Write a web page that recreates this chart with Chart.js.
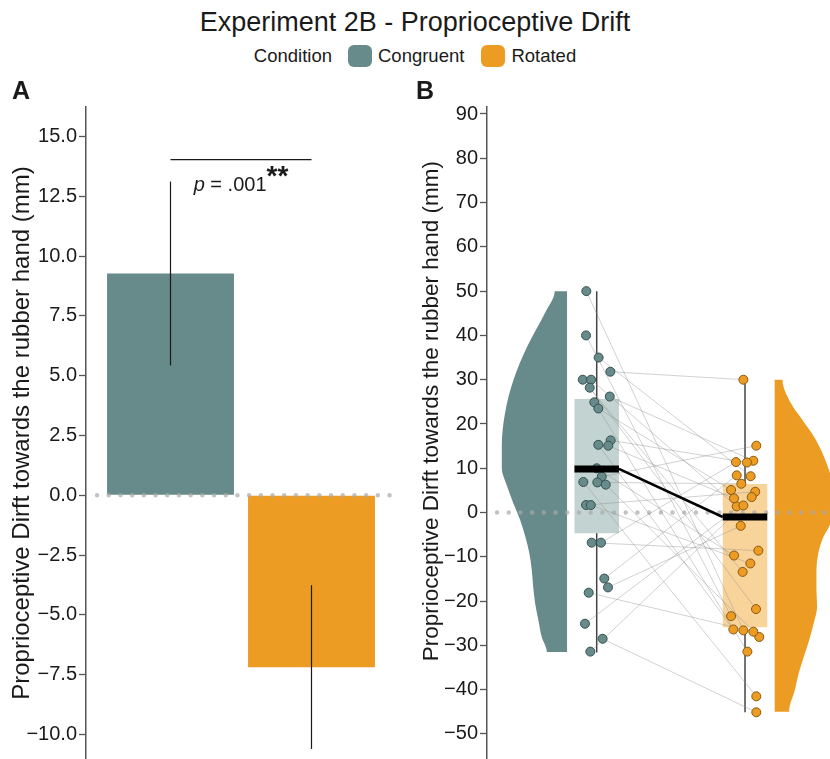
<!DOCTYPE html>
<html>
<head>
<meta charset="utf-8">
<script src="https://cdn.jsdelivr.net/npm/chart.js@4.4.1/dist/chart.umd.min.js"></script>
<style>
body { margin:0; width:830px; height:759px; overflow:hidden; background:#fff; position:relative;
       font-family:"Liberation Sans", Arial, Helvetica, sans-serif; color:#1a1a1a; }
#title { position:absolute; left:0; width:830px; top:6px; text-align:center; font-size:27px; line-height:32px; }
#legend { position:absolute; left:0; width:830px; top:44px; height:24px; display:flex; justify-content:center;
          align-items:center; font-size:18.5px; }
#legend .key { width:24px; height:22px; border-radius:6px; display:inline-block; margin-right:6px; }
.tag { position:absolute; top:78px; font-size:25px; line-height:25px; font-weight:bold; z-index:2; }
canvas { position:absolute; top:80px; }
</style>
</head>
<body>
<canvas id="chartA" width="410" height="700" style="left:0"></canvas>
<canvas id="chartB" width="420" height="700" style="left:410px"></canvas>
<div id="title">Experiment 2B - Proprioceptive Drift</div>
<div id="legend"></div>
<div class="tag" style="left:12px">A</div>
<div class="tag" style="left:416px">B</div>
<script>
// conditions
var conditions = ['Congruent', 'Rotated'];
var conditionColors = ['#678b8a', '#ec9c22'];
var boxColors = ['#c3d3d2', '#f8d49b'];
var pointBorders = ['#34504f', '#8a5912'];

// panel A - mean drift and error bars
var meanDrift = [9.28, -7.19];
var errLow = [5.43, -10.61];
var errHigh = [13.12, -3.76];
var ticksA = [-10, -7.5, -5, -2.5, 0, 2.5, 5, 7.5, 10, 12.5, 15];
var bracketY = 14.04;
var pText = ['p', ' = .001', '**'];

// panel B - individual drift, one entry per participant (congruent / rotated pairs)
var congruentDrift = [50, 40, 35, 31.8, 30, 30, 28.2, 26.2, 24.9, 23.5, 16.3, 15.3, 15.1, 10.0,
                      8.1, 6.9, 6.8, 6.3, 1.7, 1.7, -6.8, -6.8, -14.9, -16.9, -18.1, -25.1, -28.5, -31.4];
var rotatedDrift = [-26.6, -23.4, 8.2, 30, -13.4, 1.4, -21.8, 11.7, -31.4, 5.1, 11.3, -26.4, 3.2, -9.7,
                    15.1, -41.5, 6.5, -28.1, 4.7, -11.5, -8.6, 11.4, 8.4, -3.0, -26.9, 3.5, -45.1, 1.6];
// horizontal jitter of the dots
var congruentJitter = [-0.070, -0.072, 0.013, 0.092, -0.094, -0.038, -0.047, 0.088, -0.016, 0.011, 0.094, 0.011, 0.078, 0.0,
                       0.034, -0.090, 0.004, 0.061, -0.072, -0.040, -0.034, 0.029, 0.051, 0.076, -0.054, -0.079, 0.040, -0.043];
var rotatedJitter = [-0.011, -0.094, 0.038, -0.011, -0.016, -0.056, 0.074, 0.056, 0.016, -0.094, 0.013, -0.079, -0.074, -0.074,
                     0.076, 0.076, -0.025, 0.096, 0.069, 0.036, 0.090, -0.061, -0.056, -0.029, 0.056, 0.045, 0.076, -0.011];
// box plot stats [congruent, rotated]
var boxLow = [-31.6, -45.1];
var boxQ1 = [-4.67, -25.9];
var boxMedian = [9.85, -1.0];
var boxQ3 = [25.65, 6.46];
var boxHigh = [50, 30];
// half violins: levels and relative density
var violinLevelsC = [50, 45, 37.5, 30, 22.5, 15, 10, 6, 2, -1.6, -5.4, -9, -13, -16.6, -20.4, -24.2, -28, -31.5];
var violinDensityC = [0.19, 0.34, 0.61, 0.82, 0.95, 1.0, 1.0, 0.92, 0.82, 0.72, 0.64, 0.58, 0.54, 0.52, 0.49, 0.44, 0.39, 0.31];
var violinLevelsR = [30, 24.8, 21, 17.2, 13.5, 9.7, 5, 2, 0, -3, -6.1, -9.9, -13.6, -17.4, -21.2, -24.9, -28.7, -32.4, -36.2, -40, -45];
var violinDensityR = [0.12, 0.245, 0.42, 0.60, 0.73, 0.83, 0.92, 0.95, 0.92, 0.84, 0.73, 0.66, 0.64, 0.64, 0.65, 0.60, 0.53, 0.45, 0.37, 0.31, 0.22];
var ticksB = [-50, -40, -30, -20, -10, 0, 10, 20, 30, 40, 50, 60, 70, 80, 90];

var FONT = '"Liberation Sans", Arial, Helvetica, sans-serif';
Chart.defaults.font.family = FONT;
Chart.defaults.color = '#1a1a1a';
Chart.defaults.animation = false;

// legend
var lg = document.getElementById('legend');
lg.innerHTML = '<span style="margin-right:16px">Condition</span>' +
  conditions.map(function (c, i) {
    return '<span class="key" style="background:' + conditionColors[i] + '"></span><span' +
      (i === 0 ? ' style="margin-right:17px"' : '') + '>' + c + '</span>';
  }).join('');

var zeroColor = 'rgba(170,170,170,0.7)';
var yTitle = 'Proprioceptive Dirft towards the rubber hand (mm)';

function yAxis(min, max, ticks, decimals, titleSize, width, title) {
  return {
    min: min, max: max,
    afterBuildTicks: function (s) { s.ticks = ticks.map(function (v) { return { value: v }; }); },
    afterFit: function (s) { s.width = width; },
    ticks: {
      callback: function (v) { return v.toFixed(decimals).replace('-', '\u2212'); },
      color: '#1a1a1a', font: { size: 20 }, padding: 2
    },
    grid: { drawOnChartArea: false, drawTicks: true, tickLength: 7, tickWidth: 1.3, tickColor: '#555' },
    border: { display: true, color: '#555', width: 1.5 },
    title: { display: true, text: title, color: '#1a1a1a', font: { size: titleSize }, padding: { top: 4, bottom: 4 } }
  };
}

function seg(x0, y0, x1, y1, color, width, order, extra) {
  var d = { type: 'line', data: [{ x: x0, y: y0 }, { x: x1, y: y1 }], borderColor: color, borderWidth: width,
            pointRadius: 0, order: order };
  for (var k in extra || {}) d[k] = extra[k];
  return d;
}

// p value text under the bracket
var pValuePlugin = {
  id: 'pValue',
  afterDatasetsDraw: function (chart) {
    var ctx = chart.ctx;
    var cx = chart.scales.x.getPixelForValue(1.5);
    var base = chart.scales.y.getPixelForValue(bracketY) + 31;
    ctx.save();
    ctx.fillStyle = '#1a1a1a';
    ctx.textBaseline = 'alphabetic';
    var fonts = ['italic 20px ' + FONT, '20px ' + FONT, 'bold 28px ' + FONT];
    var widths = pText.map(function (t, i) { ctx.font = fonts[i]; return ctx.measureText(t).width; });
    var x = cx - (widths[0] + widths[1] + widths[2]) / 2;
    pText.forEach(function (t, i) {
      ctx.font = fonts[i];
      ctx.fillText(t, x, i === 2 ? base - 6 : base);
      x += widths[i];
    });
    ctx.restore();
  }
};

// ---------- panel A ----------
var dsA = [
  { data: meanDrift.map(function (v, i) { return { x: i + 1, y: v }; }), backgroundColor: conditionColors,
    barPercentage: 0.9, categoryPercentage: 1, borderWidth: 0, order: 3 },
  seg(0.479, 0, 2.592, 0, zeroColor, 4.5, 1, { borderDash: [0, 11.7], borderCapStyle: 'round' }),
  seg(1, bracketY, 2, bracketY, '#1a1a1a', 1.2, 2)
];
errLow.forEach(function (lo, i) { dsA.push(seg(i + 1, lo, i + 1, errHigh[i], '#1a1a1a', 1.2, 2)); });

new Chart(document.getElementById('chartA'), {
  type: 'bar',
  data: { datasets: dsA },
  options: {
    responsive: false,
    layout: { autoPadding: false, padding: { left: 4, right: 0, top: 27, bottom: 21 } },
    plugins: { legend: { display: false }, tooltip: { enabled: false } },
    scales: {
      x: { type: 'linear', min: 0.4007, max: 2.6986, display: false, offset: false,
           afterBuildTicks: function (s) { s.ticks = conditions.map(function (c, i) { return { value: i + 1 }; }); } },
      y: yAxis(-11.03, 16.24, ticksA, 1, 24, 82, yTitle)
    }
  },
  plugins: [pValuePlugin]
});

// ---------- panel B ----------
var VIOLIN_W = 0.44, VIOLIN_GAP = 0.2, BOX_HALF = 0.15;
function violin(levels, dens, pos, side, color) {
  var edge = pos + side * VIOLIN_GAP;
  var pts = [{ x: edge, y: levels[0] }];
  levels.forEach(function (v, i) { pts.push({ x: edge + side * dens[i] * VIOLIN_W, y: v }); });
  pts.push({ x: edge, y: levels[levels.length - 1] });
  return { type: 'line', indexAxis: 'y', data: pts, backgroundColor: color, borderWidth: 0, pointRadius: 0,
           fill: 'shape', cubicInterpolationMode: 'monotone', order: 20 };
}

var dsB = [
  violin(violinLevelsC, violinDensityC, 1, -1, conditionColors[0]),
  violin(violinLevelsR, violinDensityR, 2, 1, conditionColors[1]),
  seg(0.328, 0, 2.573, 0, zeroColor, 4.5, 17, { borderDash: [0, 11.7], borderCapStyle: 'round' })
];
conditions.forEach(function (c, i) {
  var p = i + 1;
  dsB.push(seg(p, boxLow[i], p, boxHigh[i], '#444', 1.5, 19, { indexAxis: 'y' }));
  dsB.push({ type: 'line', indexAxis: 'y', order: 18, borderWidth: 0, pointRadius: 0, fill: 'shape',
             backgroundColor: boxColors[i],
             data: [{ x: p - BOX_HALF, y: boxQ3[i] }, { x: p + BOX_HALF, y: boxQ3[i] },
                    { x: p + BOX_HALF, y: boxQ1[i] }, { x: p - BOX_HALF, y: boxQ1[i] }] });
  dsB.push(seg(p - BOX_HALF, boxMedian[i], p + BOX_HALF, boxMedian[i], '#000', 7, 14));
});
dsB.push(seg(1 + BOX_HALF, boxMedian[0], 2 - BOX_HALF, boxMedian[1], '#000', 2.6, 14));
congruentDrift.forEach(function (v, i) {
  dsB.push(seg(1 + congruentJitter[i], v, 2 + rotatedJitter[i], rotatedDrift[i], 'rgba(140,140,140,0.4)', 1, 16));
});
[congruentDrift, rotatedDrift].forEach(function (arr, i) {
  var jit = i === 0 ? congruentJitter : rotatedJitter;
  dsB.push({ data: arr.map(function (v, k) { return { x: i + 1 + jit[k], y: v }; }),
             backgroundColor: conditionColors[i], borderColor: pointBorders[i],
             pointRadius: 4.5, pointBorderWidth: 1, order: 15 });
});

new Chart(document.getElementById('chartB'), {
  type: 'scatter',
  data: { datasets: dsB },
  options: {
    responsive: false,
    layout: { autoPadding: false, padding: { left: 4, right: 0, top: 27, bottom: 21 } },
    plugins: { legend: { display: false }, tooltip: { enabled: false } },
    scales: {
      x: { type: 'linear', min: 0.2603, max: 2.573, display: false },
      // leading spaces push the label up, as in the original panel
      y: yAxis(-55.65, 91.58, ticksB, 0, 22.5, 73, '\u00a0\u00a0\u00a0\u00a0\u00a0\u00a0\u00a0' + yTitle)
    }
  }
});
</script>
</body>
</html>
